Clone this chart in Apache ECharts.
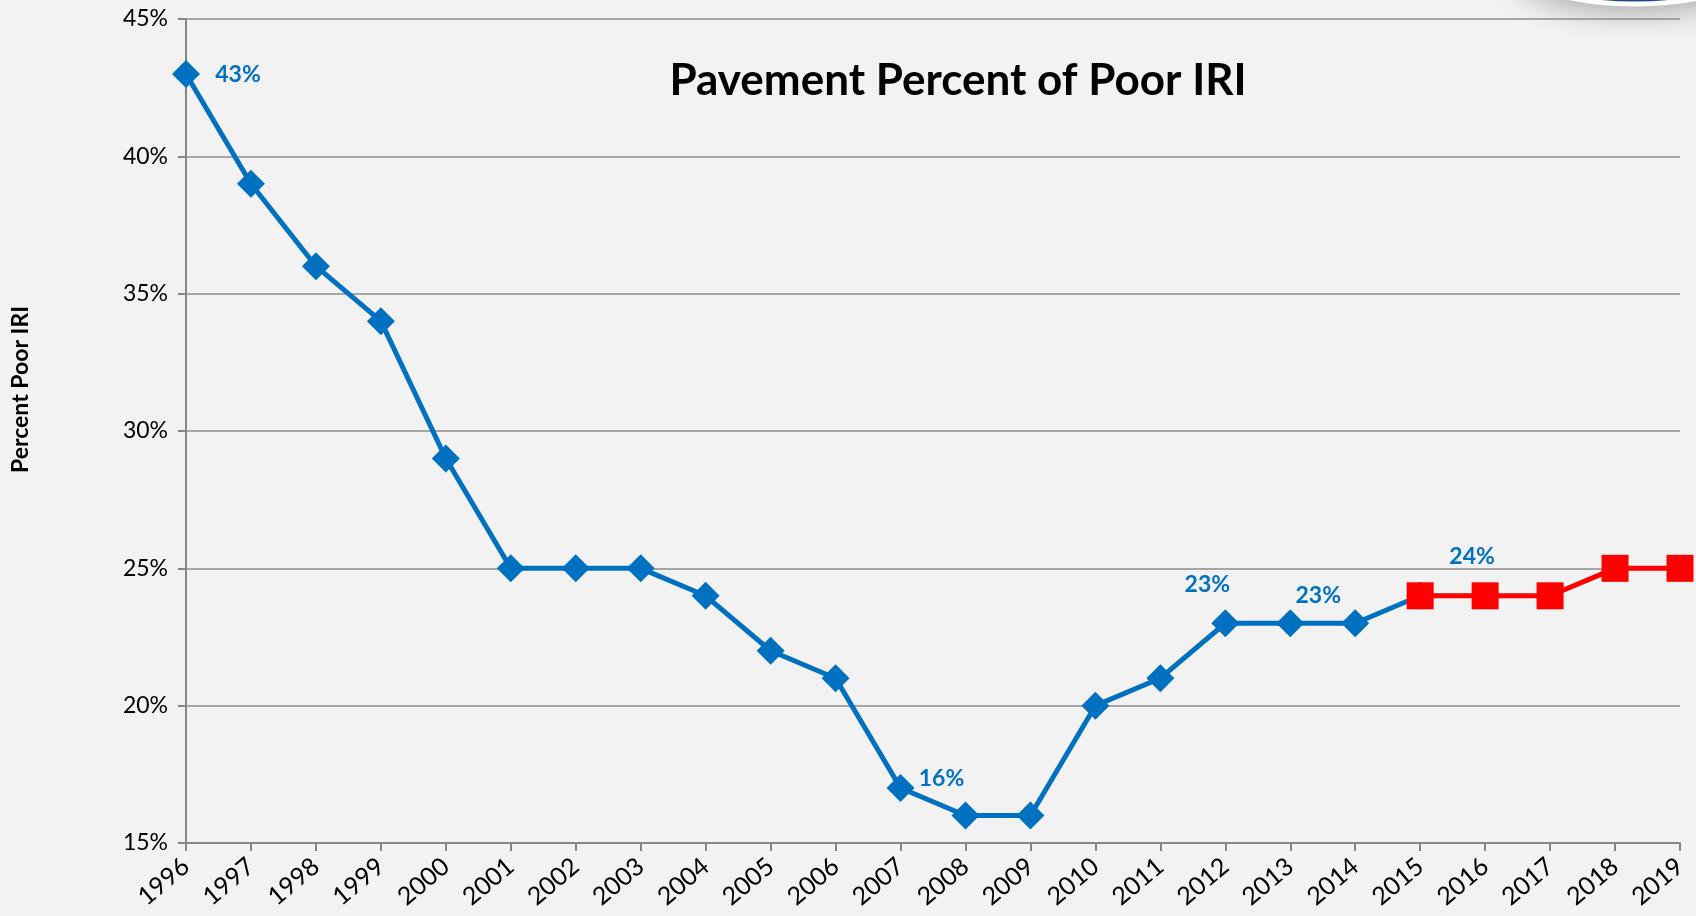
<!DOCTYPE html>
<html>
<head>
<meta charset="utf-8">
<style>
  html, body { margin: 0; padding: 0; background: #f2f2f2; }
  #chart { width: 1696px; height: 916px; }
</style>
<script src="https://cdn.jsdelivr.net/npm/echarts@6/dist/echarts.min.js"></script>
</head>
<body>
<div id="chart"></div>
<script>
var years = ['1996','1997','1998','1999','2000','2001','2002','2003','2004','2005','2006','2007',
             '2008','2009','2010','2011','2012','2013','2014','2015','2016','2017','2018','2019'];
// measured values, 1996-2015
var measured = [43,39,36,34,29,25,25,25,24,22,21,17,16,16,20,21,23,23,23,24,null,null,null,null];
// projected values, 2015-2019
var projected = [null,null,null,null,null,null,null,null,null,null,null,null,
                 null,null,null,null,null,null,null,24,24,24,25,25];
var yTicks = [15,20,25,30,35,40,45];

var font = 'Lato, "Open Sans", sans-serif';
var blue = '#0070c0';
var red = '#ff0000';

function lbl(dx, dy) {
  return {
    show: true, position: 'inside', offset: [dx, dy],
    color: blue, fontFamily: font, fontWeight: 'bold', fontSize: 23,
    formatter: function (p) { return p.value + '%'; }
  };
}

var measuredData = measured.map(function (v, i) {
  var d = { value: v };
  if (i === 0) d.label = lbl(52, 1);
  if (i === 12) d.label = lbl(-24, -37);
  if (i === 16) d.label = lbl(-18, -39);
  if (i === 17) d.label = lbl(28, -28);
  return d;
});
var projectedData = projected.map(function (v, i) {
  var d = { value: v };
  if (i === 20) d.label = lbl(-13, -39);
  return d;
});

var myChart = echarts.init(document.getElementById('chart'));
var option = {
  backgroundColor: '#f2f2f2',
  animation: false,
  grid: { left: 186, right: 16, top: 19, bottom: 73 },
  title: {
    text: 'Pavement Percent of Poor IRI',
    left: 953, top: 54, textAlign: 'center',
    textStyle: { fontFamily: font, fontWeight: 'bold', fontSize: 44, color: '#000' }
  },
  graphic: [
    {
      type: 'text', left: 9, top: 306, rotation: Math.PI / 2,
      style: { text: 'Percent Poor IRI', fontFamily: font, fontWeight: 'bold', fontSize: 23, fill: '#000' }
    },
    {
      type: 'ellipse', z: 0,
      shape: { cx: 1635, cy: -36, rx: 120, ry: 40 },
      style: { fill: '#1f4e8c', stroke: '#ffffff', lineWidth: 5,
               shadowBlur: 30, shadowColor: 'rgba(0,0,0,0.3)', shadowOffsetY: 4 }
    }
  ],
  xAxis: {
    type: 'category', data: years, boundaryGap: false,
    axisLine: { lineStyle: { color: '#868686', width: 2 } },
    axisTick: { show: true, alignWithLabel: true, length: 8, lineStyle: { color: '#868686', width: 2 } },
    axisLabel: { rotate: 40, interval: 0, margin: 20, color: '#000', fontFamily: font, fontSize: 25 }
  },
  yAxis: {
    type: 'value', min: 15, max: 45, interval: 5,
    axisLine: { show: true, lineStyle: { color: '#868686', width: 2 } },
    axisTick: { show: true, length: 8, lineStyle: { color: '#868686', width: 2 } },
    splitLine: { lineStyle: { color: '#8c8c8c', width: 1.5 } },
    axisLabel: {
      margin: 18, color: '#000', fontFamily: font, fontSize: 23,
      formatter: function (v) { return yTicks.indexOf(v) >= 0 ? v + '%' : ''; }
    }
  },
  series: [
    {
      name: 'Measured', type: 'line', data: measuredData, z: 3,
      symbol: 'diamond', symbolSize: 28, showAllSymbol: true,
      lineStyle: { color: blue, width: 5 },
      itemStyle: { color: blue }
    },
    {
      name: 'Projected', type: 'line', data: projectedData, z: 4,
      symbol: 'rect', symbolSize: 27, showAllSymbol: true,
      lineStyle: { color: red, width: 5 },
      itemStyle: { color: red }
    }
  ]
};
myChart.setOption(option);
</script>
</body>
</html>
